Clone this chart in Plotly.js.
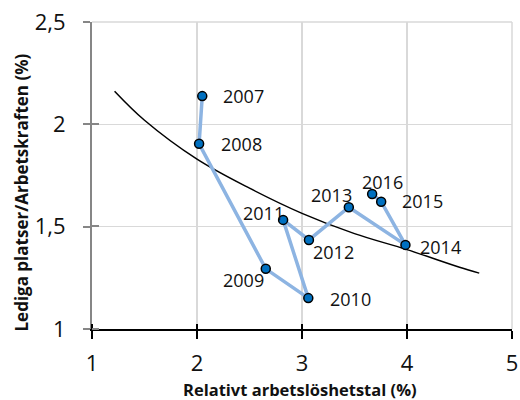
<!DOCTYPE html>
<html>
<head>
<meta charset="utf-8">
<script src="https://cdn.plot.ly/plotly-3.0.1.min.js"></script>
<style>html,body{margin:0;padding:0;background:#fff;}#chart{width:520px;height:400px;}</style>
</head>
<body>
<div id="chart"></div>
<script>
// Data
const years = ["2007","2008","2009","2010","2011","2012","2013","2014","2015","2016"];
const unemployment = [2.05, 2.02, 2.655, 3.06, 2.82, 3.066, 3.446, 3.985, 3.754, 3.668];
const vacancies = [2.138, 1.905, 1.294, 1.151, 1.533, 1.435, 1.595, 1.411, 1.622, 1.66];
// Trend curve points
const trendX = [1.215, 1.5, 2.0, 2.5, 3.0, 3.5, 4.0, 4.5, 4.688];
const trendY = [2.162, 2.02, 1.83, 1.688, 1.565, 1.466, 1.388, 1.302, 1.273];

// Label placement (style only)
const labelStyle = {
  "2007": {xa: "left", dx: 19, dy: 0},
  "2008": {xa: "left", dx: 20, dy: 0},
  "2009": {xa: "right", dx: 0, dy: -11},
  "2010": {xa: "left", dx: 20, dy: -1},
  "2011": {xa: "right", dx: 3, dy: 7},
  "2012": {xa: "left", dx: 2, dy: -12},
  "2013": {xa: "right", dx: 5, dy: 12},
  "2014": {xa: "left", dx: 13, dy: -2},
  "2015": {xa: "left", dx: 19, dy: 1},
  "2016": {xa: "center", dx: 10, dy: 12}
};

const FONT = "Open Sans, Noto Sans, Liberation Sans, sans-serif";

const traces = [
  {
    x: trendX, y: trendY, type: "scatter", mode: "lines",
    line: {color: "#000000", width: 1.5, shape: "spline"},
    hoverinfo: "skip", showlegend: false
  },
  {
    x: unemployment, y: vacancies, type: "scatter", mode: "lines+markers",
    line: {color: "#8DB4E2", width: 3.5},
    marker: {color: "#0070C0", size: 9, line: {color: "#000000", width: 1.5}},
    showlegend: false
  }
];

const annotations = years.map((yr, i) => ({
  x: unemployment[i], y: vacancies[i], xref: "x", yref: "y",
  text: yr, showarrow: false,
  xanchor: labelStyle[yr].xa, yanchor: "middle",
  xshift: labelStyle[yr].dx, yshift: labelStyle[yr].dy,
  font: {family: FONT, size: 18, color: "#111111"}
}));

annotations.push({
  text: "<b>Relativt arbetslöshetstal (%)</b>", xref: "paper", yref: "paper",
  x: 0.495, y: -0.195, showarrow: false, xanchor: "center", yanchor: "middle",
  yshift: -1, borderpad: 0,
  font: {family: FONT, size: 16.5, color: "#111111"}
});
annotations.push({
  text: "<b>Lediga platser/Arbetskraften (%)</b>", xref: "paper", yref: "paper",
  x: -0.168, y: 0.446, showarrow: false, xanchor: "center", yanchor: "middle",
  textangle: -90,
  font: {family: FONT, size: 17, color: "#111111"}
});

const layout = {
  width: 520, height: 400,
  margin: {l: 92, r: 8, t: 22, b: 71, pad: 0},
  paper_bgcolor: "#ffffff", plot_bgcolor: "#ffffff",
  separators: ", ",
  showlegend: false,
  font: {family: FONT, color: "#111111"},
  xaxis: {
    range: [1, 5], dtick: 1, tick0: 1,
    showgrid: true, gridcolor: "#d9d9d9", gridwidth: 1.5,
    zeroline: false, showline: true, linecolor: "#000000", linewidth: 2,
    ticks: "outside", ticklen: 8, tickwidth: 2, tickcolor: "#000000",
    ticklabelstandoff: 6,
    tickfont: {family: FONT, size: 22, color: "#111111"},
    minor: {ticks: "inside", tick0: 1.004, dtick: 1, ticklen: 5, tickwidth: 2,
            tickcolor: "#000000", showgrid: false},
    fixedrange: true
  },
  yaxis: {
    range: [1, 2.5], dtick: 0.5, tick0: 1,
    showgrid: true, gridcolor: "#d9d9d9", gridwidth: 1.5,
    zeroline: false, showline: true, linecolor: "#868686", linewidth: 2,
    ticks: "outside", ticklen: 7, tickwidth: 2, tickcolor: "#868686",
    ticklabelstandoff: 13,
    tickfont: {family: FONT, size: 22, color: "#111111"},
    minor: {ticks: "inside", tick0: 1.002, dtick: 0.5, ticklen: 7, tickwidth: 2,
            tickcolor: "#868686", showgrid: false},
    fixedrange: true
  },
  annotations: annotations,
  shapes: [
    {type: "line", xref: "paper", yref: "paper", x0: 0, x1: 1, y0: 1, y1: 1,
     line: {color: "#d9d9d9", width: 1.5}, layer: "below"},
    {type: "line", xref: "paper", yref: "paper", x0: 1, x1: 1, y0: 0, y1: 1,
     line: {color: "#d9d9d9", width: 1.5}, layer: "below"}
  ]
};

Plotly.newPlot("chart", traces, layout, {displayModeBar: false, staticPlot: true});
</script>
</body>
</html>
